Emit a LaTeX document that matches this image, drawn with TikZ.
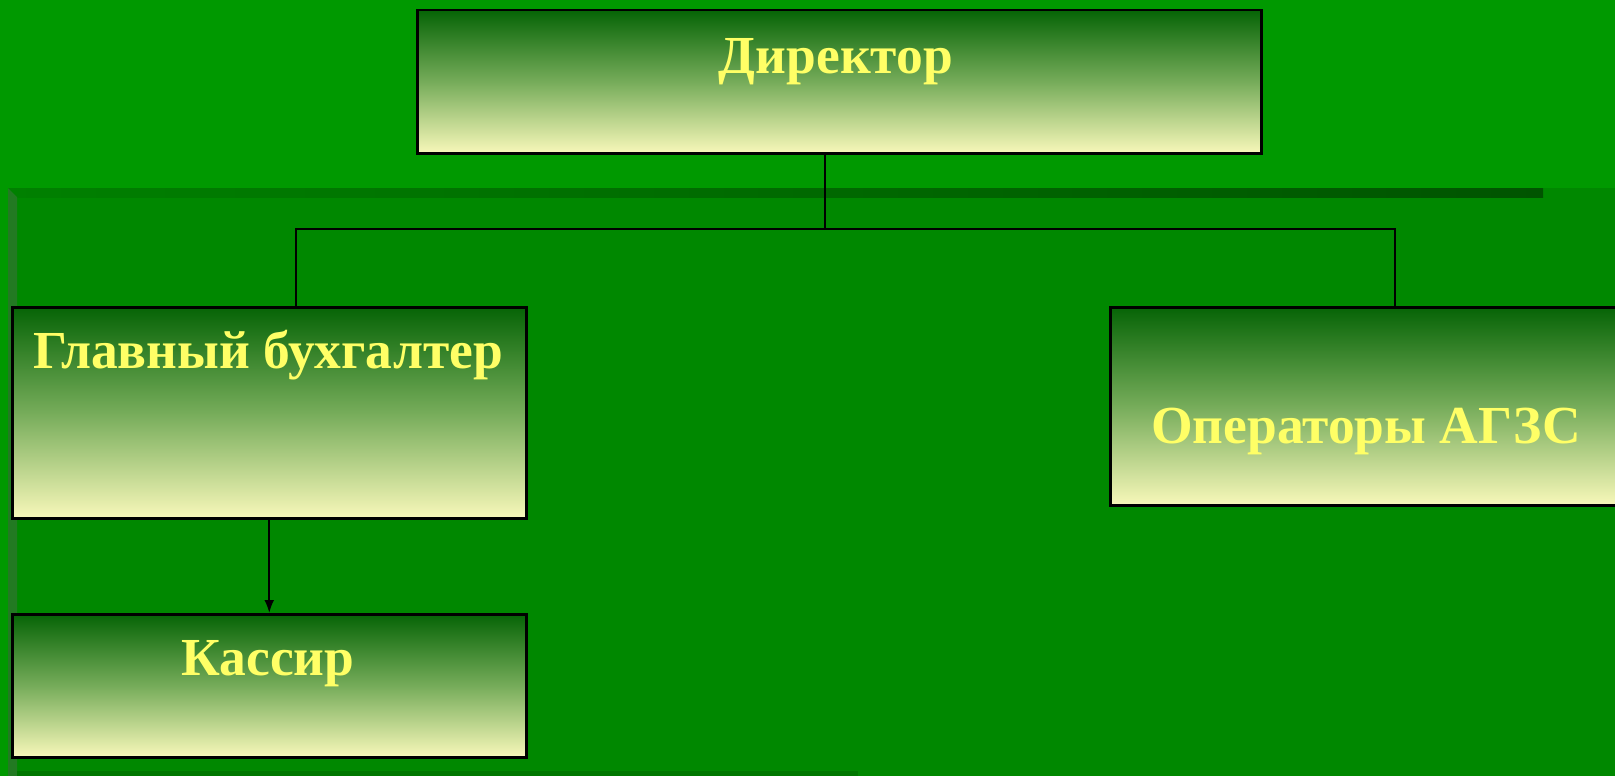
\documentclass[tikz,border=0pt]{standalone}
\usepackage{fontspec}
\setmainfont{Liberation Serif}
\usetikzlibrary{arrows.meta}
\definecolor{bgtop}{RGB}{0,153,0}
\definecolor{bglow}{RGB}{0,136,0}
\definecolor{barL}{RGB}{0,128,0}
\definecolor{barR}{RGB}{0,84,0}
\definecolor{stripe}{RGB}{34,122,34}
\definecolor{botbar}{RGB}{0,119,0}
\definecolor{boxtop}{RGB}{6,100,6}
\definecolor{boxmid}{RGB}{118,172,90}
\definecolor{boxbot}{RGB}{248,248,186}
\definecolor{txt}{RGB}{255,255,102}
\begin{document}
\begin{tikzpicture}[x=1pt,y=-1pt,
  box/.style={draw=black,line width=2.5pt,top color=boxtop,bottom color=boxbot,middle color=boxmid,inner sep=0pt,anchor=north west},
  lbl/.style={text=txt,font=\fontsize{53.5}{62}\selectfont\bfseries,anchor=base,inner sep=0pt},
  conn/.style={draw=black,line width=2.7pt},
  arr/.style={draw=black,line width=2pt,-{Latex[length=13pt,width=10pt]}}]
\useasboundingbox (0,0) rectangle (1615,776);
% background
\fill[bgtop] (0,0) rectangle (1615,776);
\fill[bglow] (8,188) rectangle (1615,776);
\shade[left color=barL,right color=barR] (8,188) rectangle (1543,197);
\fill[stripe] (8,188) -- (17,197) -- (17,776) -- (8,776) -- cycle;
\fill[botbar] (17,771) rectangle (858,776);
% boxes
\node[box,minimum width=844pt,minimum height=143pt] (dir) at (416,9) {};
\node[box,minimum width=514pt,minimum height=211pt] (acc) at (11,306) {};
\node[box,minimum width=516pt,minimum height=198pt] (ops) at (1109,306) {};
\node[box,minimum width=514pt,minimum height=143pt] (cas) at (11,613) {};
% labels
\node[lbl] (dirT) at (836,74) {Директор};
\node[lbl] (accT) at (268,368) {Главный бухгалтер};
\node[lbl] (opsT) at (1366,443) {Операторы АГЗС};
\node[lbl] (casT) at (268,675) {Кассир};
% connectors
\coordinate (j) at (825,229);
\coordinate (jl) at (296,229);
\coordinate (jr) at (1395,229);
\draw[conn] (dir.south -| j) -- (j);
\draw[conn] (acc.north -| jl) -- (jl) -- (jr) -- (ops.north -| jr);
\draw[arr] (acc.south) -- (cas.north);
\end{tikzpicture}
\end{document}
